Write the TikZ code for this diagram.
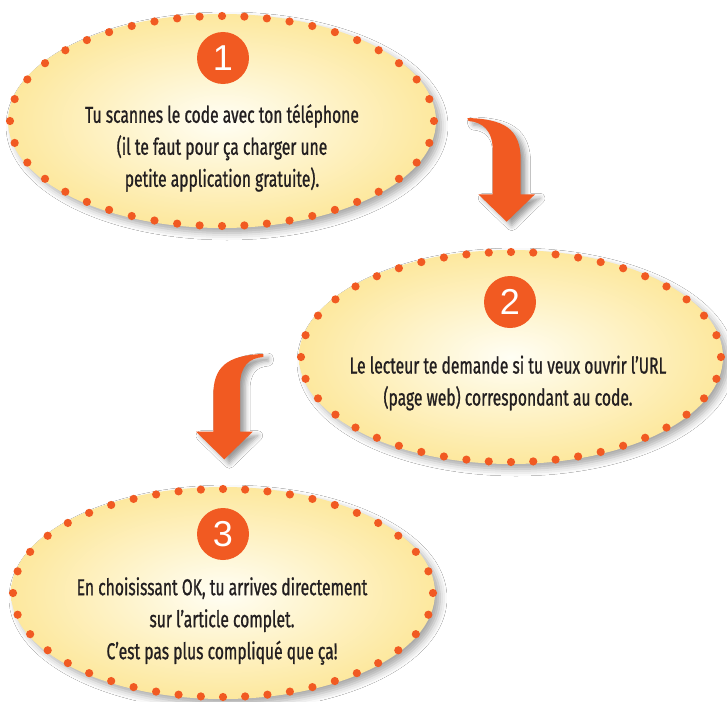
\documentclass[tikz,border=0pt]{standalone}
\usepackage{fontspec}
\setmainfont{Fira Sans}[FakeStretch=0.68,FakeBold=0.9]
\newfontfamily\numfont{Liberation Sans}
\usetikzlibrary{shapes.geometric,shadows.blur}
\definecolor{orng}{HTML}{F15A22}
\definecolor{edgey}{HTML}{FDE89E}
\definecolor{centy}{HTML}{FFFEF4}
\definecolor{txt}{HTML}{231F20}
\newcommand{\dotring}[5]{% node, a, b, k/2 in degrees, count
  \foreach \i in {1,...,#5} {
    \pgfmathsetmacro\th{\i*360/#5}
    \pgfmathsetmacro\tu{\th+#4*sin(2*\th)}
    \pgfmathsetmacro\tv{\th+#4*sin(2*\tu)}
    \pgfmathsetmacro\tw{\th+#4*sin(2*\tv)}
    \fill[orng, shift={(#1.center)}] ({#2*cos(\tw)},{#3*sin(\tw)}) circle (4.1pt);
  }}
\begin{document}
\begin{tikzpicture}[x=1pt,y=-1pt,
  bubble/.style={ellipse, inner sep=0pt, shade, inner color=centy, outer color=edgey,
    blur shadow={shadow xshift=5pt, shadow yshift=-5pt, shadow blur radius=7pt, shadow opacity=35}},
  numc/.style={circle, fill=orng, minimum size=52pt, inner sep=0pt, text=white,
    font=\numfont\fontsize{36}{36}\selectfont},
  txtn/.style={align=center, text=txt, inner sep=0pt, font=\fontsize{23}{32}\selectfont},
  bigarrow/.style={fill=orng,
    blur shadow={shadow xshift=5pt, shadow yshift=-4pt, shadow blur radius=5pt, shadow opacity=40}}]
\useasboundingbox (0,0) rectangle (727,701);
\fill[white] (0,0) rectangle (727,701);

% bubbles
\node[bubble, minimum width=428pt, minimum height=214pt] (e1) at (222,121) {};
\node[bubble, minimum width=424pt, minimum height=214pt] (e2) at (511,357) {};
\node[bubble, minimum width=424pt, minimum height=212pt] (e3) at (223,593) {};
\dotring{e1}{212}{105}{9.67}{44}
\dotring{e2}{210}{105}{9.55}{44}
\dotring{e3}{210}{104}{9.67}{44}

% numbers
\node[numc] (n1) at (223,58) {1};
\node[numc] (n2) at (510,302) {2};
\node[numc] (n3) at (223,534) {3};

% texts
\node[txtn] (t1) at (222,148) {Tu scannes le code avec ton téléphone\\(il te faut pour ça charger une\\petite application gratuite).};
\node[txtn] (t2) at (508,383) {Le lecteur te demande si tu veux ouvrir l’URL\\(page web) correspondant au code.};
\node[txtn] (t3) at (222,621) {En choisissant OK, tu arrives directement\\sur l’article complet.\\C’est pas plus compliqué que ça!};

% arrows
\path[bigarrow] (467.3,118) .. controls (503,119) and (520.7,128) .. (520.7,160)
  -- (520.7,194.3) -- (535,194.3) -- (506.7,221.7) -- (478.3,194.3) -- (492.7,194.3)
  -- (492.7,150) .. controls (492.7,130) and (482,122) .. (468.5,121) -- cycle;
\path[bigarrow] (263.3,354) .. controls (226,355) and (213.3,368) .. (213.3,395)
  -- (213.3,431.7) -- (196,431.7) -- (224.3,459.3) -- (252.7,431.7) -- (240,431.7)
  -- (240,386) .. controls (240,366) and (249,358) .. (263.3,357) -- cycle;
\end{tikzpicture}
\end{document}
